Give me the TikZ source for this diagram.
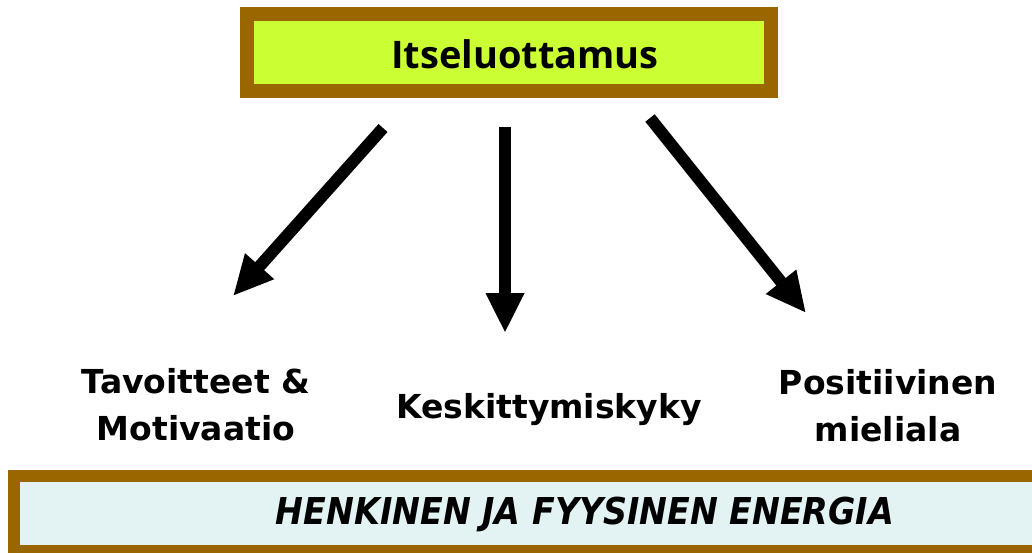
\documentclass[tikz,border=0pt]{standalone}
\usepackage{fontspec}
\setmainfont{DejaVu Sans}
\newfontfamily\titlefont{Open Sans}
\newfontfamily\bandfont{DejaVu Sans Condensed}
\usetikzlibrary{arrows.meta}
\definecolor{frame}{RGB}{153,102,0}
\definecolor{lime}{RGB}{204,255,51}
\definecolor{pale}{RGB}{227,243,243}
\tikzset{
  x=1pt, y=-1pt,
  framed/.style={draw=frame, rectangle, inner sep=0pt},
  thick arrow/.style={line width=12pt, -{Triangle[width=36pt,length=40pt]}},
  item/.style={font=\fontsize{33}{47}\selectfont\bfseries, align=center, inner sep=0pt},
}
\begin{document}
\begin{tikzpicture}
\useasboundingbox (0,0) rectangle (1032,552);
\clip (0,0) rectangle (1032,552);
% top box
\node[framed, line width=14pt, fill=lime, minimum width=524pt, minimum height=77pt] (top) at (509,52.5) {};
\node[font=\titlefont\fontsize{38}{40}\selectfont\bfseries, inner sep=0pt] (title) at (525,54) {Itseluottamus};
% bottom band
\node[framed, line width=12pt, fill=pale, minimum width=1032pt, minimum height=75pt] (band) at (530,513.5) {};
\node[font=\bandfont\fontsize{37}{40}\selectfont\bfseries\itshape, inner sep=0pt] (bandtext) at (585,514) {HENKINEN JA FYYSINEN ENERGIA};
% three outcomes
\node[item] (goal) at (196,405) {Tavoitteet \&\\Motivaatio};
\node[item] (focus) at (549,410) {Keskittymiskyky};
\node[item] (mood) at (888,406) {Positiivinen\\mieliala};
% arrows
\coordinate (s1) at (383,128);
\coordinate (e1) at (233,296);
\coordinate (s2) at (505,127);
\coordinate (e2) at (505,333);
\coordinate (s3) at (650,118);
\coordinate (e3) at (806,313);
\draw[thick arrow] (s1) -- (e1);
\draw[thick arrow] (s2) -- (e2);
\draw[thick arrow] (s3) -- (e3);
\end{tikzpicture}
\end{document}
